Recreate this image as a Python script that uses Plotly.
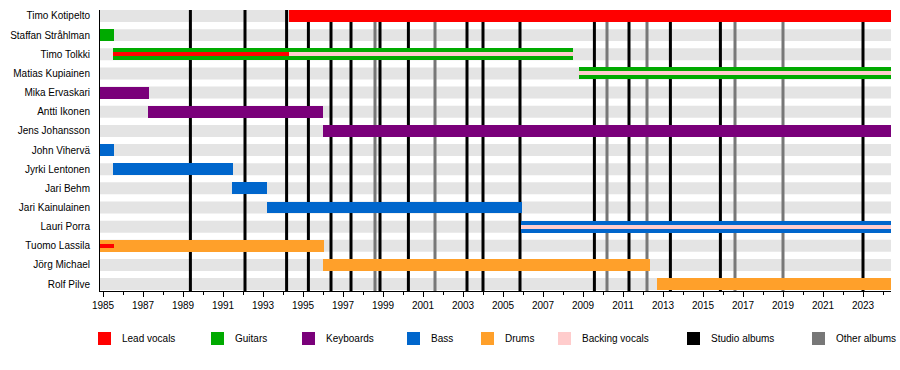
import plotly.graph_objects as go

# ---------------- data ----------------
members = ["Timo Kotipelto", "Staffan Stråhlman", "Timo Tolkki", "Matias Kupiainen",
           "Mika Ervaskari", "Antti Ikonen", "Jens Johansson", "John Vihervä",
           "Jyrki Lentonen", "Jari Behm", "Jari Kainulainen", "Lauri Porra",
           "Tuomo Lassila", "Jörg Michael", "Rolf Pilve"]

START = 1984.85
END = 2024.4

# main bars
bar_member = members
bar_role = ["Lead vocals", "Guitars", "Guitars", "Guitars", "Keyboards", "Keyboards",
            "Keyboards", "Bass", "Bass", "Bass", "Bass", "Bass", "Drums", "Drums", "Drums"]
bar_start = [1994.28, START, 1985.5, 2008.8, START, 1987.25, 1996.0, START, 1985.5,
             1991.45, 1993.2, 2005.9, START, 1996.0, 2012.7]
bar_end = [END, 1985.55, 2008.5, END, 1987.3, 1996.0, END, 1985.55, 1991.5,
           1993.2, 2005.93, END, 1996.05, 2012.33, END]

# inner stripes (secondary roles)
stripe_member = ["Timo Tolkki", "Timo Tolkki", "Matias Kupiainen", "Lauri Porra", "Tuomo Lassila"]
stripe_role = ["Lead vocals", "Backing vocals", "Backing vocals", "Backing vocals", "Lead vocals"]
stripe_start = [1985.5, 1994.3, 2008.8, 2005.9, START]
stripe_end = [1994.3, 2008.5, END, END, 1985.55]

studio_albums = [1989.37, 1992.1, 1994.18, 1995.27, 1996.4, 1997.4, 1998.85, 2000.27,
                 2003.2, 2004.0, 2005.85, 2009.57, 2011.3, 2013.37, 2015.87, 2023.0]
other_albums = [1998.6, 2001.6, 2010.2, 2012.2, 2016.6, 2019.0]

legend_labels = ["Lead vocals", "Guitars", "Keyboards", "Bass", "Drums",
                 "Backing vocals", "Studio albums", "Other albums"]

# ---------------- styles ----------------
colors = {"Lead vocals": "#ff0000", "Guitars": "#00aa00", "Keyboards": "#7a007a",
          "Bass": "#0066cc", "Drums": "#ffa02a", "Backing vocals": "#ffcccc",
          "Studio albums": "#000000", "Other albums": "#777777"}
FONT = "Liberation Sans, Arial, sans-serif"
BAR_W = 0.625
STRIPE_W = 0.21
Y_TOP, Y_BOT = -0.3125, 14.36

yidx = {m: i for i, m in enumerate(members)}

fig = go.Figure()

# main bars, one trace per role
for role in ["Lead vocals", "Guitars", "Keyboards", "Bass", "Drums"]:
    ys, bases, lens = [], [], []
    for m, r, s, e in zip(bar_member, bar_role, bar_start, bar_end):
        if r == role:
            ys.append(yidx[m]); bases.append(s); lens.append(e - s)
    fig.add_trace(go.Bar(orientation="h", y=ys, x=lens, base=bases, width=BAR_W,
                         marker=dict(color=colors[role], line=dict(width=0)),
                         hoverinfo="skip", showlegend=False))

# stripes
for role in ["Lead vocals", "Backing vocals"]:
    ys, bases, lens = [], [], []
    for m, r, s, e in zip(stripe_member, stripe_role, stripe_start, stripe_end):
        if r == role:
            ys.append(yidx[m]); bases.append(s); lens.append(e - s)
    fig.add_trace(go.Bar(orientation="h", y=ys, x=lens, base=bases, width=STRIPE_W,
                         marker=dict(color=colors[role], line=dict(width=0)),
                         hoverinfo="skip", showlegend=False))

shapes = []
# row background bands
for i in range(len(members)):
    shapes.append(dict(type="rect", layer="below", xref="x", yref="y",
                       x0=START, x1=END, y0=i - BAR_W / 2, y1=i + BAR_W / 2,
                       fillcolor="#e4e4e4", line=dict(width=0)))
# album lines
for yr in other_albums:
    shapes.append(dict(type="line", layer="below", xref="x", yref="y",
                       x0=yr, x1=yr, y0=Y_TOP, y1=Y_BOT,
                       line=dict(color=colors["Other albums"], width=3)))
for yr in studio_albums:
    shapes.append(dict(type="line", layer="below", xref="x", yref="y",
                       x0=yr, x1=yr, y0=Y_TOP, y1=Y_BOT,
                       line=dict(color=colors["Studio albums"], width=3)))

# legend (manual, pixel positions)
PLOT_L, PLOT_W, PLOT_T, PLOT_H = 100, 791, 10, 281
def px_x(p):
    return (p - PLOT_L) / PLOT_W
def px_y(p):
    return (PLOT_T + PLOT_H - p) / PLOT_H

leg_sq_left = [98, 211, 302, 407, 481, 558, 687, 812]
annotations = []
for lbl, xl in zip(legend_labels, leg_sq_left):
    shapes.append(dict(type="rect", xref="paper", yref="paper",
                       x0=px_x(xl), x1=px_x(xl + 13), y0=px_y(345), y1=px_y(332),
                       fillcolor=colors[lbl], line=dict(width=0)))
    annotations.append(dict(xref="paper", yref="paper", x=px_x(xl + 22), y=px_y(338.5),
                            text=lbl, showarrow=False, xanchor="left", yanchor="middle",
                            font=dict(family=FONT, size=10, color="#000")))

fig.update_layout(
    width=900, height=370,
    margin=dict(l=100, r=9, t=10, b=79, autoexpand=False),
    paper_bgcolor="white", plot_bgcolor="white",
    barmode="overlay", bargap=0,
    showlegend=False,
    shapes=shapes, annotations=annotations,
    font=dict(family=FONT, size=10, color="#000"),
    xaxis=dict(range=[START, END], tickmode="linear", tick0=1985, dtick=2,
               ticks="outside", ticklen=5, tickcolor="#000", tickwidth=1,
               minor=dict(dtick=1, tick0=1985, ticks="outside", ticklen=3, tickcolor="#000"),
               showgrid=False, zeroline=False, showline=True, linecolor="#000", linewidth=1,
               automargin=False,
               tickfont=dict(family=FONT, size=10, color="#000")),
    yaxis=dict(range=[Y_BOT, Y_TOP], tickmode="array",
               tickvals=list(range(len(members))), ticktext=members,
               ticks="", showgrid=False, zeroline=False, showline=True,
               linecolor="#000", linewidth=1, ticklabelstandoff=7, automargin=False,
               tickfont=dict(family=FONT, size=10, color="#000")),
)

fig.write_html("out.html",
               config={"displayModeBar": False},
               post_script="document.body.style.margin='0px';document.body.style.overflow='hidden';")
